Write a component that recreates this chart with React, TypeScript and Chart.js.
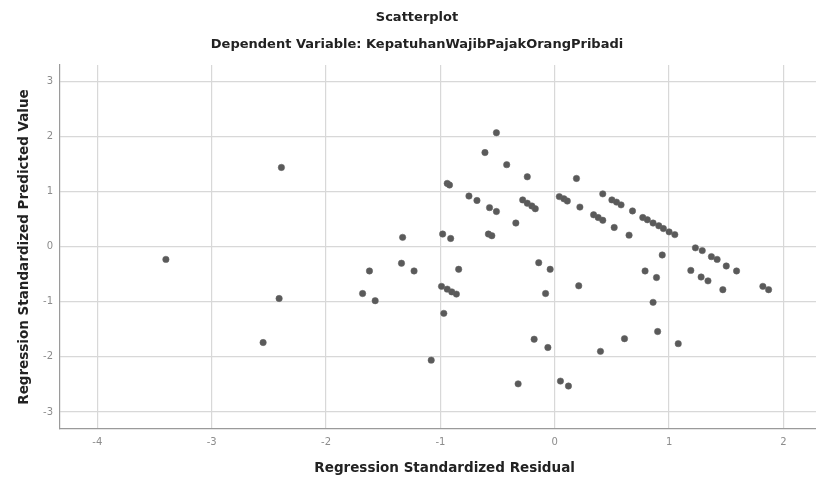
import React, { useEffect, useRef } from "react";
import { Chart, registerables } from "chart.js";

Chart.register(...registerables);

const chartTitle = "Scatterplot";
const chartSubtitle = "Dependent Variable: KepatuhanWajibPajakOrangPribadi";
const xAxisTitle = "Regression Standardized Residual";
const yAxisTitle = "Regression Standardized Predicted Value";

const xTickValues = [-4, -3, -2, -1, 0, 1, 2];
const yTickValues = [-3, -2, -1, 0, 1, 2, 3];

// Regression Standardized Residual (x)
const residuals = [
  -3.40, -2.39, -2.41, -2.55, -1.62, -1.68, -1.57, -1.34, -1.33, -1.23,
  -0.99, -0.94, -0.90, -0.86, -0.97, -1.08, -0.98, -0.91, -0.84, -0.94,
  -0.92, -0.75, -0.68, -0.57, -0.51, -0.58, -0.55, -0.51, -0.61, -0.42,
  -0.24, -0.34, -0.28, -0.24, -0.20, -0.17, -0.14, -0.04, -0.08, -0.18,
  -0.06, -0.32, 0.05, 0.12, 0.21, 0.19, 0.04, 0.08, 0.11, 0.22,
  0.34, 0.38, 0.42, 0.52, 0.65, 0.42, 0.50, 0.54, 0.58, 0.68,
  0.77, 0.81, 0.86, 0.91, 0.95, 1.00, 1.05, 0.94, 0.40, 0.61,
  0.79, 0.89, 0.86, 0.90, 1.08, 1.23, 1.29, 1.37, 1.42, 1.50,
  1.59, 1.19, 1.28, 1.34, 1.47, 1.82, 1.87,
];

// Regression Standardized Predicted Value (y)
const predicted = [
  -0.23, 1.44, -0.94, -1.74, -0.44, -0.85, -0.98, -0.30, 0.17, -0.44,
  -0.72, -0.77, -0.82, -0.86, -1.21, -2.06, 0.23, 0.15, -0.41, 1.15,
  1.12, 0.92, 0.84, 0.71, 0.64, 0.23, 0.20, 2.07, 1.71, 1.49,
  1.27, 0.43, 0.85, 0.79, 0.74, 0.69, -0.29, -0.41, -0.85, -1.68,
  -1.83, -2.49, -2.44, -2.53, -0.71, 1.24, 0.91, 0.87, 0.83, 0.72,
  0.58, 0.53, 0.48, 0.35, 0.21, 0.96, 0.85, 0.81, 0.76, 0.65,
  0.53, 0.49, 0.43, 0.38, 0.33, 0.27, 0.22, -0.15, -1.90, -1.67,
  -0.44, -0.56, -1.01, -1.54, -1.76, -0.02, -0.07, -0.18, -0.23, -0.35,
  -0.44, -0.43, -0.55, -0.62, -0.78, -0.72, -0.78,
];

const FONT = "'DejaVu Sans', 'Liberation Sans', Arial, sans-serif";

export default function App() {
  const canvasRef = useRef<HTMLCanvasElement | null>(null);

  useEffect(() => {
    if (!canvasRef.current) return;
    const points = residuals.map((x, i) => ({ x, y: predicted[i] }));
    const chart = new Chart(canvasRef.current, {
      type: "scatter",
      data: {
        datasets: [
          {
            data: points,
            backgroundColor: "#5a5a5a",
            borderColor: "rgba(100,100,100,0.7)",
            borderWidth: 0.8,
            pointRadius: 3.2,
          },
        ],
      },
      options: {
        animation: false,
        responsive: false,
        layout: { padding: 0 },
        plugins: {
          legend: { display: false },
          tooltip: { enabled: false },
          title: {
            display: true,
            text: chartTitle,
            color: "#222",
            font: { family: FONT, size: 13, weight: "bold", lineHeight: 1.2 },
            padding: { top: 10, bottom: 0 },
          },
          subtitle: {
            display: true,
            text: chartSubtitle,
            color: "#222",
            font: { family: FONT, size: 13, weight: "bold", lineHeight: 1.2 },
            padding: { top: 11.4, bottom: 12.4 },
          },
        },
        scales: {
          x: {
            type: "linear",
            min: -4.326,
            max: 2.4,
            afterBuildTicks: (scale: any) => {
              scale.ticks = xTickValues.map((v) => ({ value: v }));
            },
            afterFit: (scale: any) => {
              scale.height = 49;
            },
            ticks: {
              color: "#8c8c8c",
              font: { family: FONT, size: 10 },
              padding: 7,
              includeBounds: false,
            },
            grid: { color: "#d8d8d8", lineWidth: 1.2, drawTicks: false },
            border: { display: true, color: "#9a9a9a", width: 1.2 },
            title: {
              display: true,
              text: xAxisTitle,
              color: "#222",
              font: { family: FONT, size: 13.5, weight: "bold", lineHeight: 1.2 },
              padding: { top: 0, bottom: 1 },
            },
          },
          y: {
            type: "linear",
            min: -3.31,
            max: 3.3,
            afterBuildTicks: (scale: any) => {
              scale.ticks = yTickValues.map((v) => ({ value: v }));
            },
            afterFit: (scale: any) => {
              scale.width = 60;
            },
            ticks: {
              color: "#8c8c8c",
              font: { family: FONT, size: 10 },
              padding: 7,
              includeBounds: false,
            },
            grid: { color: "#d8d8d8", lineWidth: 1.2, drawTicks: false },
            border: { display: true, color: "#9a9a9a", width: 1.2 },
            title: {
              display: true,
              text: yAxisTitle,
              color: "#222",
              font: { family: FONT, size: 13.5, weight: "bold", lineHeight: 1.2 },
              padding: { top: 16, bottom: 0 },
            },
          },
        },
      },
    } as any);
    return () => chart.destroy();
  }, []);

  return (
    <div
      style={{
        position: "absolute",
        left: 0,
        top: 0,
        width: 816,
        height: 478,
        overflow: "hidden",
        background: "#fff",
      }}
    >
      <canvas ref={canvasRef} width={834} height={478} style={{ display: "block" }} />
    </div>
  );
}
